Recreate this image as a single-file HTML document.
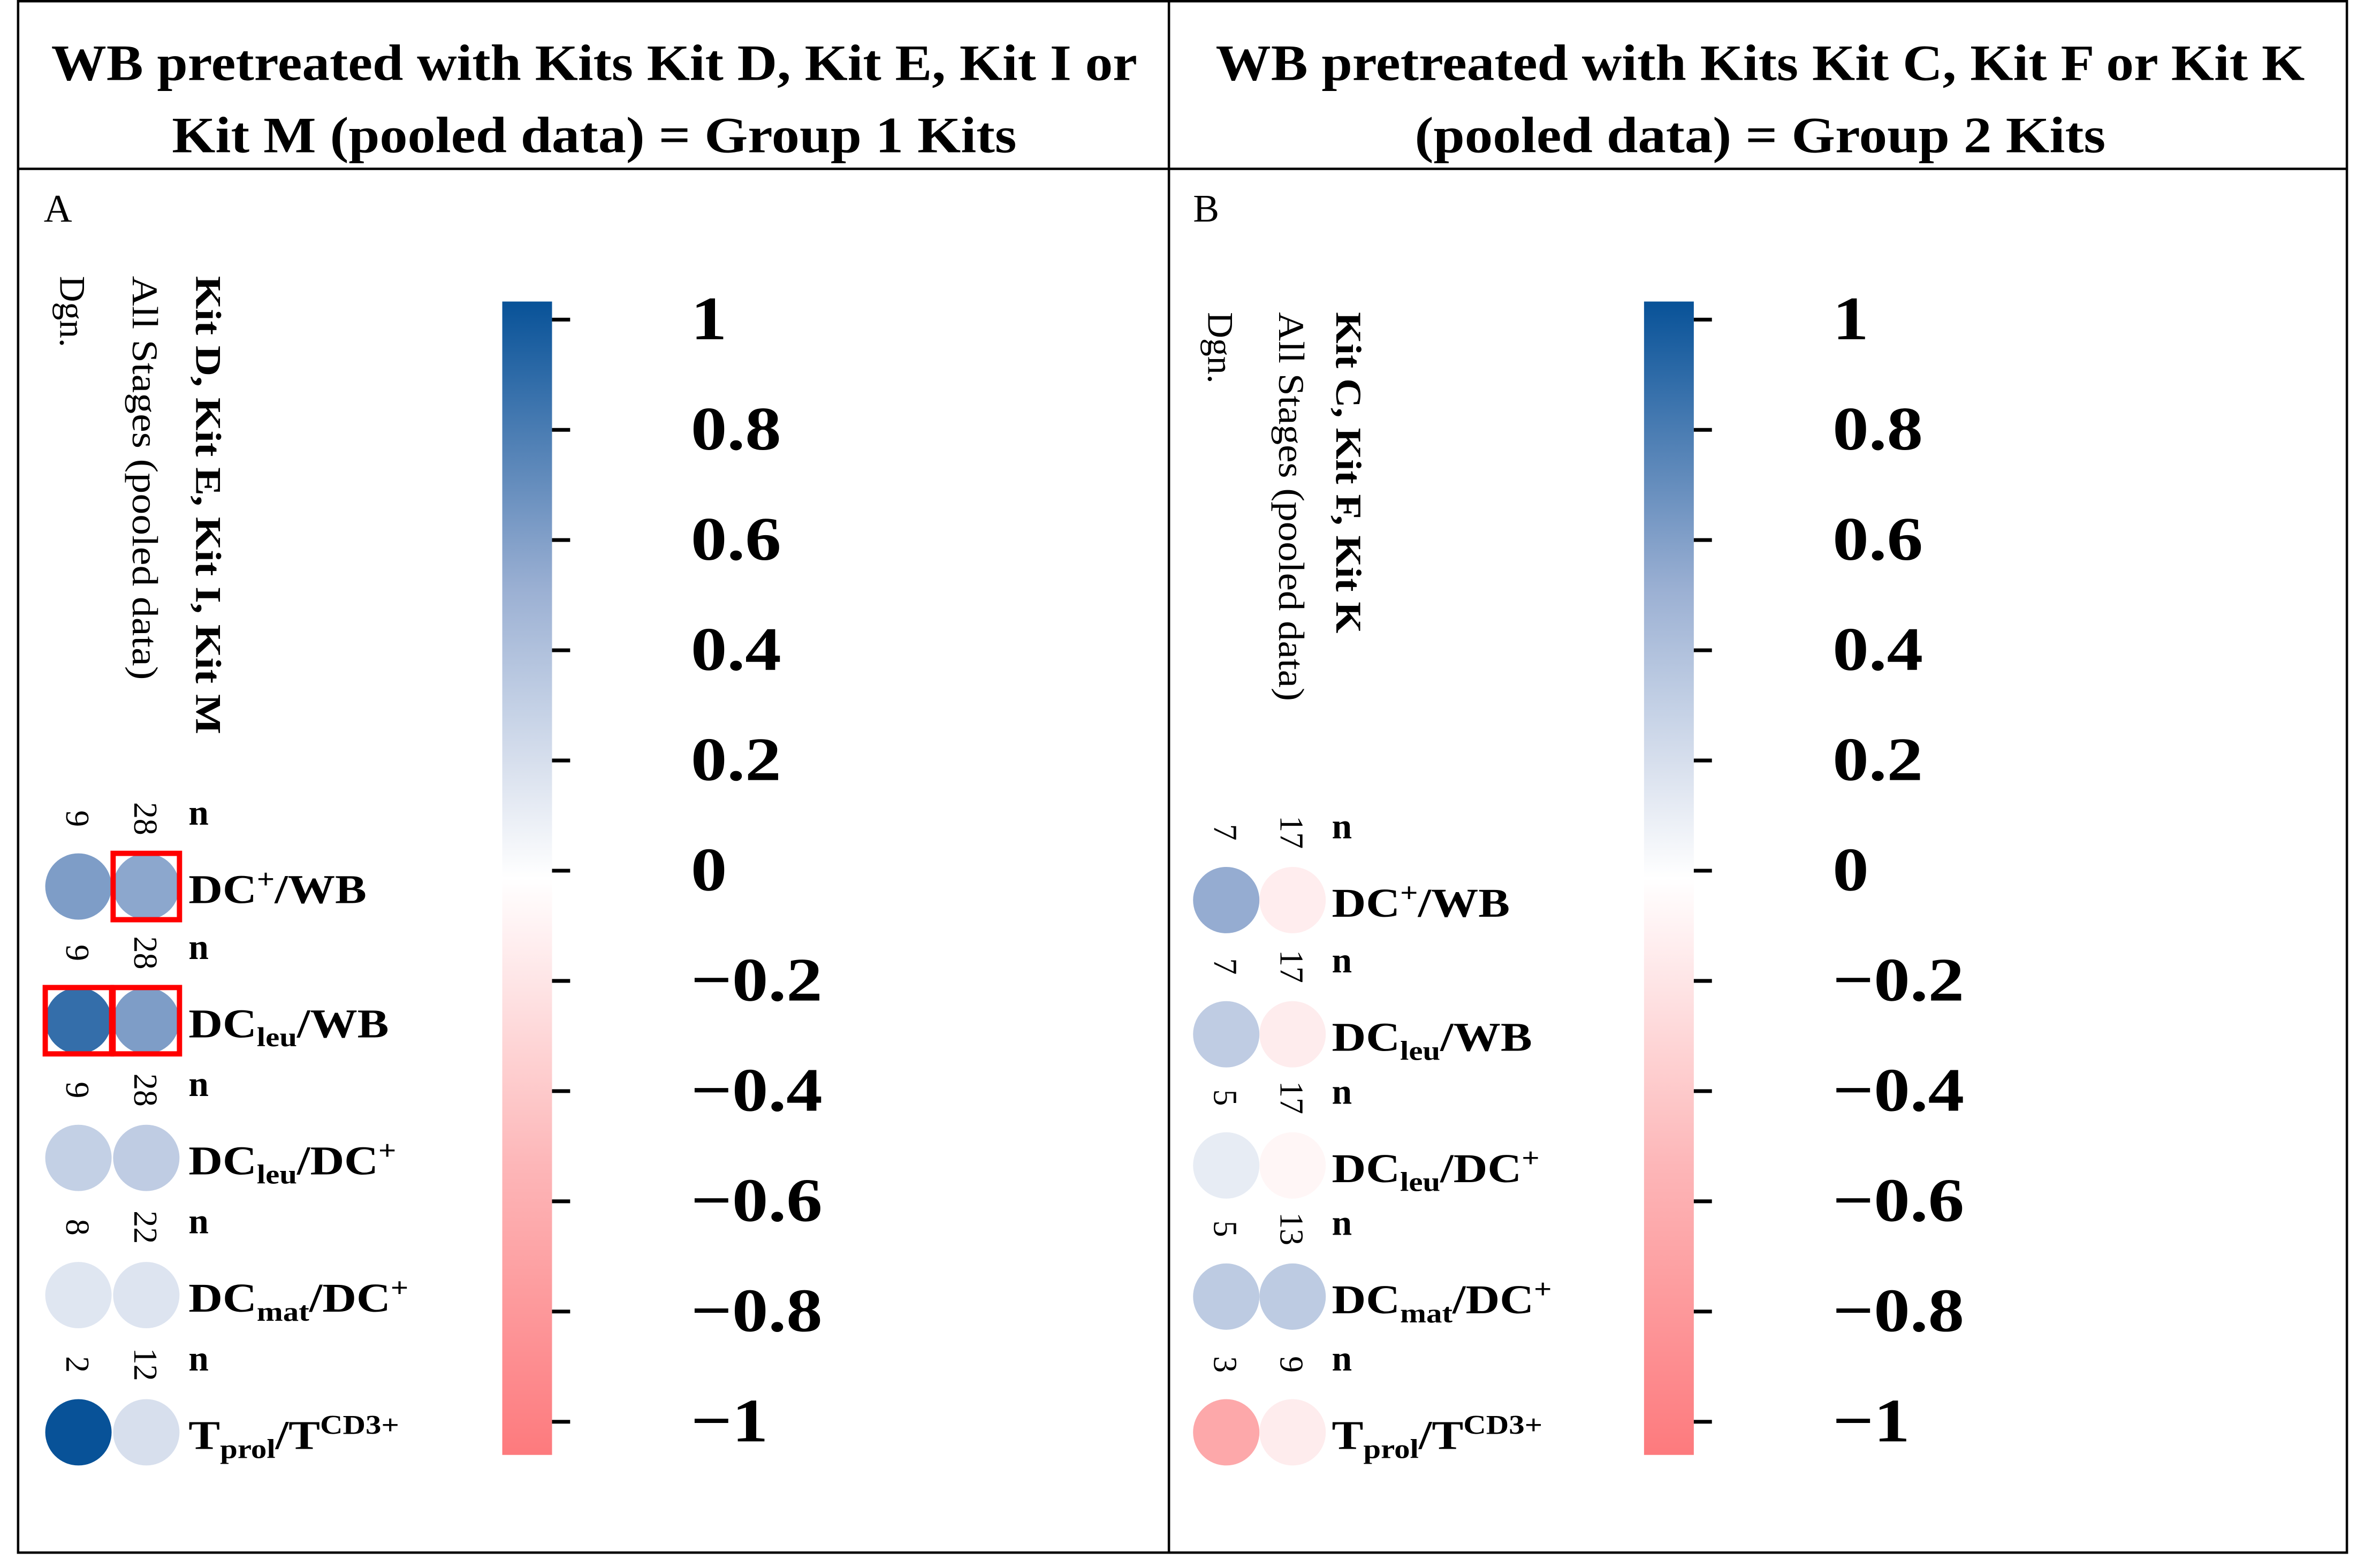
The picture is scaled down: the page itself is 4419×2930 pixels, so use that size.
<!DOCTYPE html>
<html><head><meta charset="utf-8"><style>
html,body{margin:0;padding:0;background:#fff}
svg{display:block}
text{font-family:"Liberation Serif",serif}
</style></head><body>
<svg id="fig" width="4419" height="2930" viewBox="0 0 1568 1040" preserveAspectRatio="none" xmlns="http://www.w3.org/2000/svg">
<defs>
<linearGradient id="cbgrad" x1="0" y1="0" x2="0" y2="1"></linearGradient>
</defs>
<rect x="0" y="0" width="1568" height="1040" fill="#fff"/>
<g fill="none" stroke="#000" stroke-width="1.6">
<rect x="12" y="0.8" width="1544" height="1029"/>
<line x1="12" y1="112" x2="1556" y2="112"/>
<line x1="775" y1="0" x2="775" y2="1030"/>
</g>
<g font-weight="bold" font-size="34" text-anchor="middle">
<text x="394" y="53" textLength="720" lengthAdjust="spacingAndGlyphs">WB pretreated with Kits Kit D, Kit E, Kit I or</text>
<text x="394" y="101" textLength="560" lengthAdjust="spacingAndGlyphs">Kit M (pooled data) = Group 1 Kits</text>
</g>
<g font-weight="bold" font-size="34" text-anchor="middle">
<text x="1167" y="53" textLength="722" lengthAdjust="spacingAndGlyphs">WB pretreated with Kits Kit C, Kit F or Kit K</text>
<text x="1167" y="101" textLength="458" lengthAdjust="spacingAndGlyphs">(pooled data) = Group 2 Kits</text>
</g>
<g id="panels"></g>
</svg>
<script>
const rowLabels = ["DC+/WB","DCleu/WB","DCleu/DC+","DCmat/DC+","Tprol/TCD3+"];
const ticks = [1,0.8,0.6,0.4,0.2,0,-0.2,-0.4,-0.6,-0.8,-1];
const valuesA_dgn = [0.6,0.85,0.3,0.16,1.0];
const valuesA_all = [0.55,0.6,0.32,0.17,0.2];
const nA_dgn = [9,9,9,8,2];
const nA_all = [28,28,28,22,12];
const boxedA_dgn = [false,true,false,false,false];
const boxedA_all = [true,true,false,false,false];
const valuesB_dgn = [0.52,0.32,0.12,0.33,-0.62];
const valuesB_all = [-0.12,-0.13,-0.06,0.33,-0.13];
const nB_dgn = [7,7,5,5,3];
const nB_all = [17,17,17,13,9];

const NS="http://www.w3.org/2000/svg";
const root=document.getElementById('panels');
function mk(t,a,p){const e=document.createElementNS(NS,t);for(const k in a)e.setAttribute(k,a[k]);(p||root).appendChild(e);return e;}
const stops=[[-1,[253,122,125]],[-0.5,[253,182,184]],[0,[255,255,255]],[0.5,[155,176,211]],[1,[8,82,152]]];
function color(v){
  for(let i=0;i<stops.length-1;i++){const a=stops[i],b=stops[i+1];
    if(v<=b[0]){const t=(v-a[0])/(b[0]-a[0]);const c=a[1].map((x,j)=>Math.round(x+(b[1][j]-x)*t));return `rgb(${c.join(',')})`;}}
  return 'rgb(8,82,152)';
}
const g=document.getElementById('cbgrad');
for(let i=0;i<=20;i++){const v=1-i/10;mk('stop',{offset:(i/20),'stop-color':color(v)},g);}

function labelText(parent,x,y,lbl){
  const w=mk('g',{transform:`translate(${x},${y}) scale(1.16,1)`},parent);
  const t=mk('text',{x:0,y:0,'font-size':27,'font-weight':'bold'},w);
  
  
  const parts={ "DC+/WB":[["DC",""],["+","sup"],["/WB",""]],
    "DCleu/WB":[["DC",""],["leu","sub"],["/WB",""]],
    "DCleu/DC+":[["DC",""],["leu","sub"],["/DC",""],["+","sup"]],
    "DCmat/DC+":[["DC",""],["mat","sub"],["/DC",""],["+","sup"]],
    "Tprol/TCD3+":[["T",""],["prol","sub"],["/T",""],["CD3+","sup"]]}[lbl];
  let cur=0;
  parts.forEach(p=>{const s=mk('tspan',{},t);s.textContent=p[0];
    let target=0;
    if(p[1]==='sup'){s.setAttribute('font-size','18');target=-10;}
    if(p[1]==='sub'){s.setAttribute('font-size','18');target=6;}
    if(target-cur!==0)s.setAttribute('dy',String(target-cur));
    cur=target;
  });
}

function panel(cfg){
  const p=mk('g',{});
  
  
  const L=mk('text',{x:cfg.letterX,y:147,'font-size':26},p);L.textContent=cfg.letter;
  
  const hdrs=[[cfg.cx0-12,'Dgn.','normal',cfg.hy,null],[cfg.cx1-9,'All Stages (pooled data)','normal',cfg.hy,cfg.allLen],[cfg.colLabX,cfg.kits,'bold',cfg.hy,cfg.kitLen]];
  hdrs.forEach((h,i)=>{const t=mk('text',{transform:`translate(${h[0]},${h[3]}) rotate(90)`,'font-size':24,'font-weight':h[2]},p);
    if(h[4]){t.setAttribute('textLength',h[4]);t.setAttribute('lengthAdjust','spacingAndGlyphs');}
    t.textContent=h[1];
    
    });
  rowLabels.forEach((lbl,i)=>{
    const y=cfg.rowY[i];
    const ny=y-45;
    [[cfg.cx0,cfg.dgn[i],cfg.nd[i],cfg.bd?cfg.bd[i]:false],[cfg.cx1,cfg.all[i],cfg.na[i],cfg.ba?cfg.ba[i]:false]].forEach((c,j)=>{
      const circ=mk('circle',{cx:c[0],cy:y,r:22,fill:color(c[1])},p);
      
      
      if(c[3]){const b=mk('rect',{x:c[0]-22,y:y-22,width:44,height:44,fill:'none',stroke:'#f00','stroke-width':3.5},p);
        }
      const nt=mk('text',{transform:`translate(${c[0]-8},${ny}) rotate(90)`,'font-size':22,'text-anchor':'middle'},p);
      nt.textContent=c[2];
      
    });
    const n=mk('text',{x:cfg.labX,y:ny+4,'font-size':24,'font-weight':'bold'},p);n.textContent='n';
    
    labelText(p,cfg.labX,y+11,lbl);
  });
  const cb=mk('g',{},p);
  
  mk('rect',{x:cfg.cbX,y:200,width:33,height:765,fill:'url(#cbgrad)'},cb);
  const yv=v=>577.5-v*365.5;
  ticks.forEach(v=>{
    const y=yv(v);
    mk('line',{x1:cfg.cbX+33,x2:cfg.cbX+45,y1:y,y2:y,stroke:'#000','stroke-width':2.5},cb);
    const w=mk('g',{transform:`translate(${cfg.cbX+125},${y+13}) scale(1.17,1)`},cb);
    const t=mk('text',{x:0,y:0,'font-size':41,'font-weight':'bold'},w);
    t.textContent=(v<0?'\u2212':'')+String(Math.abs(v));
    
  });
}
panel({name:'panel-a',letter:'A',letterX:29,cx0:52,cx1:97,colLabX:130,labX:125,hy:183,allLen:268,kitLen:304,kits:'Kit D, Kit E, Kit I, Kit M',
  rowY:[588,677,768,859,950],dgn:valuesA_dgn,all:valuesA_all,nd:nA_dgn,na:nA_all,bd:boxedA_dgn,ba:boxedA_all,cbX:333});
panel({name:'panel-b',letter:'B',letterX:791,cx0:813,cx1:857,colLabX:886,labX:883,hy:207,allLen:258,kitLen:213,kits:'Kit C, Kit F, Kit K',
  rowY:[597,686,773,860,950],dgn:valuesB_dgn,all:valuesB_all,nd:nB_dgn,na:nB_all,cbX:1090});
</script>
</body></html>
